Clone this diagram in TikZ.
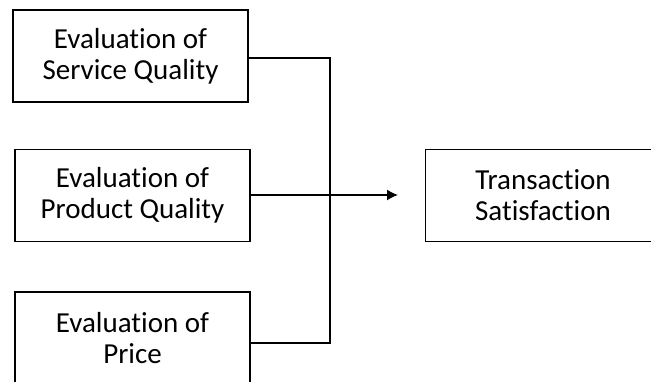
\documentclass[tikz,border=0pt]{standalone}
\usepackage{fontspec}
\setmainfont{Carlito}[Ligatures=NoCommon]
\usetikzlibrary{positioning}
\usetikzlibrary{arrows.meta}

\begin{document}
\begin{tikzpicture}[>={Latex[length=11pt,width=11pt]}, x=1pt, y=-1pt]
    \tikzset{block/.style= {draw, rectangle, align=center, line width=1.5pt, minimum width=235pt, minimum height=92pt, font=\fontsize{29}{31}\selectfont},}

    \useasboundingbox (0,0) rectangle (651,381);

    \node [block] (svc) at (130.5,56) {Evaluation of\\Service Quality};
    \node [block, below =46pt of svc, xshift=2pt] (prd) {Evaluation of\\Product Quality};
    \node [block, below =49pt of prd] (prc) {Evaluation of\\Price};
    \node [block, right =174pt of prd] (sat) {Transaction\\Satisfaction};

    \coordinate (sout) at ([yshift=-2pt]svc.east);
    \coordinate (pout) at ([yshift=-5pt]prc.east);
    \coordinate (tip) at (398,195);

    \path[draw, line width=1.5pt]
                (sout) -| (330,0 |- pout) -- (pout)
                ;
    \draw[->, line width=1.5pt] (prd.east |- tip) -- (tip);
\end{tikzpicture}
\end{document}
